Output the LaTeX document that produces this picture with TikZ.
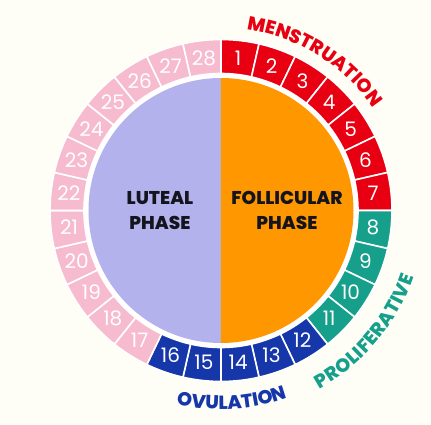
\documentclass[tikz,border=0pt]{standalone}
\usepackage{fontspec}
\setmainfont{Poppins}
\newfontface\heavyfont{Poppins ExtraBold}
\usetikzlibrary{decorations.text}
\definecolor{paper}{RGB}{254,254,246}
\definecolor{mensred}{RGB}{232,0,18}
\definecolor{prolteal}{RGB}{22,160,140}
\definecolor{ovulblue}{RGB}{22,55,170}
\definecolor{lutpink}{RGB}{247,187,207}
\definecolor{lutlav}{RGB}{180,178,236}
\definecolor{follorange}{RGB}{255,152,0}
\definecolor{inkdark}{RGB}{20,20,30}

\begin{document}
\begin{tikzpicture}[x=1pt, y=1pt,
  daybox/.style={draw=white, line width=1.6pt},
  daynum/.style={text=white, font=\fontsize{20}{20}\selectfont},
  phaselabel/.style={font=\heavyfont\fontsize{18.5}{25}\selectfont, align=center, text=inkdark}
]
\useasboundingbox (-221,-213.5) rectangle (210,210.5);
\fill[paper] (-221,-213.5) rectangle (210,210.5);

% inner disk, two halves
\fill[white] (0,0) circle[radius=137];
\fill[lutlav] (90:132.5) arc[start angle=90, end angle=270, radius=132.5] -- cycle;
\fill[follorange] (90:132.5) arc[start angle=90, end angle=-90, radius=132.5] -- cycle;

% ring of days
\foreach \d in {1,...,28} {
  \pgfmathsetmacro\aone{90-(\d-1)*360/28}
  \pgfmathsetmacro\atwo{90-\d*360/28}
  \pgfmathsetmacro\amid{90-(\d-0.5)*360/28}
  \ifnum\d<8 \def\daycol{mensred}\else
    \ifnum\d<12 \def\daycol{prolteal}\else
      \ifnum\d<17 \def\daycol{ovulblue}\else \def\daycol{lutpink}\fi\fi\fi
  \filldraw[daybox, fill=\daycol] (\aone:137) arc[start angle=\aone, end angle=\atwo, radius=137]
    -- (\atwo:171) arc[start angle=\atwo, end angle=\aone, radius=171] -- cycle;
  \node[daynum] (d\d) at (\amid:153) {\d};
}

\node[phaselabel] (luteal) at (-61,0) {LUTEAL\\PHASE};
\node[phaselabel] (follicular) at (66,0) {FOLLICULAR\\PHASE};

% curved labels
\path[decorate, decoration={text along path, text align=fit to path, text color=mensred,
  text={|\heavyfont\fontsize{19}{19}\selectfont|MENSTRUATION}}]
  (82:183) arc[start angle=82, end angle=35, radius=183];
\path[decorate, decoration={text along path, text align=fit to path, text color=prolteal,
  text={|\heavyfont\fontsize{19}{19}\selectfont|PROLIFERATIVE}}]
  (-61:204) arc[start angle=-61, end angle=-19, radius=204];
\path[decorate, decoration={text along path, text align=fit to path, text color=ovulblue,
  text={|\heavyfont\fontsize{19}{19}\selectfont|OVULATION}}]
  (-103:199) arc[start angle=-103, end angle=-72, radius=199];
\end{tikzpicture}
\end{document}
